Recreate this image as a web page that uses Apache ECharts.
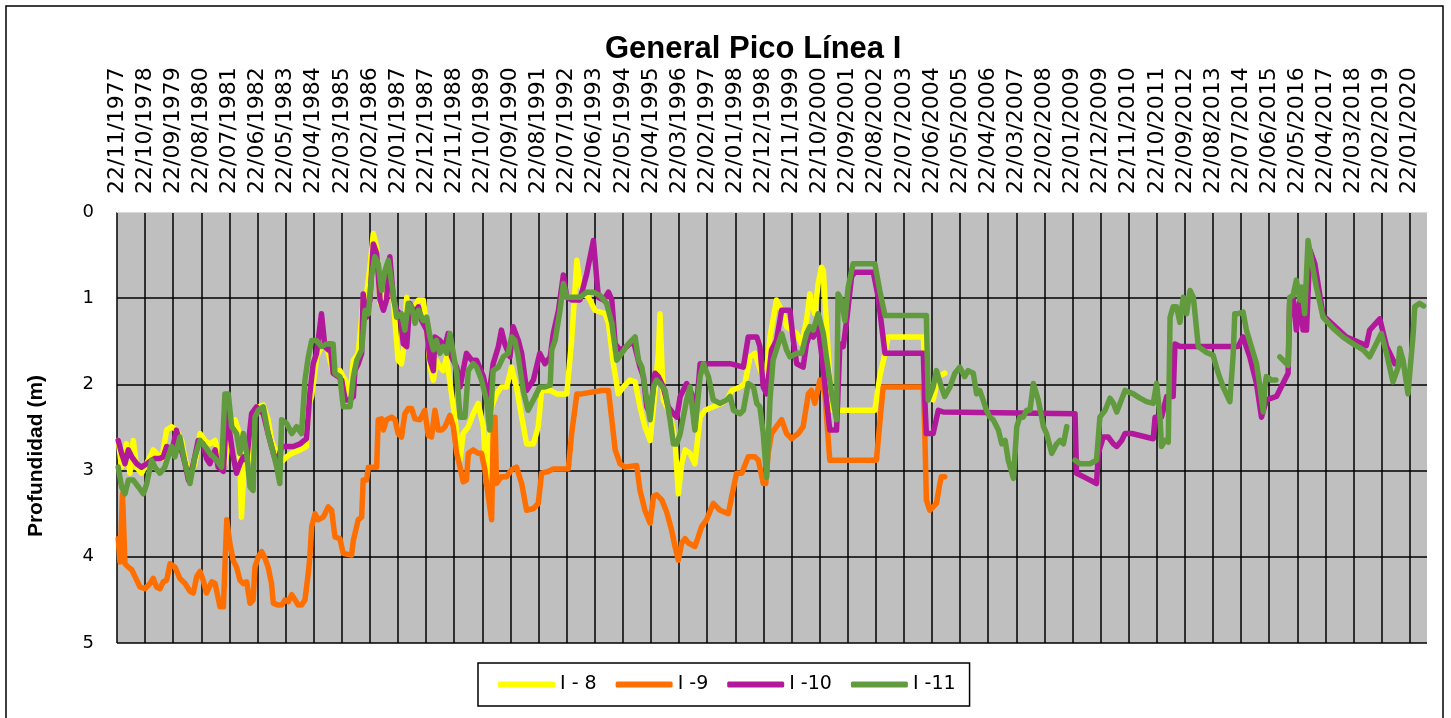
<!DOCTYPE html>
<html>
<head>
<meta charset="utf-8">
<title>General Pico Línea I</title>
<script src="https://cdn.jsdelivr.net/npm/echarts@6.0.0/dist/echarts.min.js"></script>
<style>
  html, body { margin: 0; padding: 0; background: #ffffff; }
  #chart { width: 1451px; height: 718px; }
</style>
</head>
<body>
<div id="chart"></div>
<script>
// fechas en años decimales, profundidad en metros
const startYear = 1977.890;   // 22/11/1977
const endYear = 2020.62;
const tickMonths = 11;        // una etiqueta cada 11 meses
const depthTicks = [0, 1, 2, 3, 4, 5];
const seriesNames = ['I - 8', 'I -9', 'I -10', 'I -11'];
const seriesColors = ['#ffff00', '#ff6f00', '#b2189b', '#619b3e'];

const i8 = [[1977.93,2.65],[1978.04,2.96],[1978.20,2.69],[1978.31,3.03],[1978.42,2.65],[1978.53,2.96],[1978.69,3.03],[1978.97,2.84],[1979.07,2.76],[1979.35,2.86],[1979.51,2.53],[1979.67,2.49],[1979.83,2.53],[1980.00,2.65],[1980.11,2.86],[1980.27,3.07],[1980.43,2.92],[1980.60,2.57],[1980.76,2.65],[1980.92,2.69],[1981.09,2.65],[1981.25,2.88],[1981.41,2.92],[1981.57,2.57],[1981.74,2.41],[1981.85,2.53],[1981.90,2.92],[1981.95,3.54],[1982.06,2.80],[1982.17,2.76],[1982.28,2.88],[1982.33,2.38],[1982.50,2.26],[1982.66,2.24],[1982.82,2.41],[1982.93,2.65],[1983.10,2.80],[1983.31,2.88],[1983.42,2.84],[1983.59,2.80],[1983.86,2.76],[1984.07,2.72],[1984.13,2.26],[1984.24,2.14],[1984.40,1.68],[1984.56,1.56],[1984.73,1.56],[1984.94,1.87],[1985.16,1.84],[1985.33,1.95],[1985.49,2.11],[1985.60,1.72],[1985.76,1.64],[1985.92,1.02],[1986.03,0.95],[1986.14,0.64],[1986.25,0.25],[1986.36,0.41],[1986.47,1.06],[1986.58,0.95],[1986.68,0.99],[1986.79,0.64],[1986.90,1.02],[1987.06,1.72],[1987.17,1.76],[1987.23,1.60],[1987.34,0.99],[1987.44,1.22],[1987.55,1.14],[1987.72,1.02],[1987.88,1.02],[1987.99,1.33],[1988.10,1.80],[1988.21,1.95],[1988.31,1.72],[1988.42,1.80],[1988.53,1.84],[1988.64,1.68],[1988.80,2.11],[1988.91,2.38],[1989.08,2.88],[1989.18,2.57],[1989.35,2.49],[1989.51,2.34],[1989.67,2.22],[1989.84,2.49],[1989.94,3.15],[1990.11,2.26],[1990.27,2.11],[1990.43,2.03],[1990.60,2.03],[1990.76,1.80],[1990.92,2.03],[1991.03,2.26],[1991.25,2.69],[1991.47,2.69],[1991.63,2.49],[1991.74,2.07],[1992.02,2.07],[1992.23,2.11],[1992.56,2.11],[1992.72,1.49],[1992.89,0.56],[1992.99,0.83],[1993.10,0.95],[1993.27,0.99],[1993.48,1.14],[1993.81,1.18],[1993.92,1.29],[1994.08,1.76],[1994.24,2.11],[1994.41,2.03],[1994.62,1.95],[1994.79,1.97],[1994.95,2.26],[1995.11,2.49],[1995.28,2.65],[1995.39,2.26],[1995.55,1.64],[1995.60,1.18],[1995.71,2.18],[1995.93,2.34],[1996.09,2.65],[1996.20,3.27],[1996.31,2.92],[1996.42,2.76],[1996.58,2.80],[1996.74,2.92],[1996.91,2.38],[1997.07,2.30],[1997.34,2.26],[1997.61,2.22],[1997.78,2.18],[1997.94,2.07],[1998.21,2.03],[1998.37,1.99],[1998.54,1.68],[1998.70,1.64],[1998.91,1.87],[1999.02,2.05],[1999.19,1.45],[1999.40,1.02],[1999.62,1.18],[1999.73,1.33],[1999.89,1.37],[2000.06,1.41],[2000.22,1.53],[2000.38,1.26],[2000.49,0.95],[2000.65,1.18],[2000.76,0.83],[2000.87,0.64],[2000.93,0.68],[2001.03,1.29],[2001.20,2.30],[2002.61,2.30],[2002.77,1.91],[2002.94,1.64],[2003.04,1.45],[2004.19,1.45],[2004.29,2.14],[2004.51,2.18],[2004.68,1.91],[2004.89,1.87]];

const i9 = [[1977.93,3.79],[1977.99,4.06],[1978.07,3.27],[1978.15,4.08],[1978.26,4.12],[1978.37,4.15],[1978.48,4.23],[1978.64,4.35],[1978.80,4.37],[1978.97,4.31],[1979.07,4.25],[1979.18,4.35],[1979.29,4.37],[1979.40,4.29],[1979.51,4.27],[1979.62,4.08],[1979.78,4.12],[1979.94,4.25],[1980.11,4.31],[1980.27,4.40],[1980.38,4.42],[1980.49,4.23],[1980.60,4.17],[1980.70,4.27],[1980.81,4.42],[1980.98,4.29],[1981.09,4.31],[1981.25,4.58],[1981.36,4.58],[1981.41,4.12],[1981.47,3.57],[1981.57,3.84],[1981.68,4.04],[1981.79,4.12],[1981.90,4.27],[1982.01,4.31],[1982.12,4.29],[1982.23,4.54],[1982.33,4.50],[1982.39,4.12],[1982.50,4.00],[1982.61,3.94],[1982.72,4.02],[1982.82,4.12],[1982.93,4.31],[1982.99,4.54],[1983.15,4.56],[1983.26,4.56],[1983.37,4.50],[1983.48,4.52],[1983.59,4.44],[1983.70,4.50],[1983.80,4.56],[1983.91,4.56],[1984.02,4.50],[1984.13,4.19],[1984.18,4.00],[1984.24,3.65],[1984.35,3.50],[1984.45,3.57],[1984.62,3.54],[1984.78,3.42],[1984.89,3.46],[1985.00,3.77],[1985.16,3.79],[1985.27,3.96],[1985.54,3.98],[1985.60,3.81],[1985.76,3.57],[1985.87,3.54],[1985.92,3.11],[1986.03,3.11],[1986.09,2.96],[1986.36,2.96],[1986.41,2.41],[1986.52,2.40],[1986.58,2.53],[1986.68,2.41],[1986.85,2.38],[1986.96,2.41],[1987.06,2.57],[1987.17,2.61],[1987.28,2.34],[1987.39,2.28],[1987.50,2.28],[1987.61,2.40],[1987.77,2.41],[1987.93,2.30],[1988.04,2.59],[1988.15,2.61],[1988.26,2.30],[1988.37,2.53],[1988.48,2.53],[1988.59,2.49],[1988.75,2.36],[1988.86,2.49],[1988.97,2.80],[1989.08,2.96],[1989.18,3.13],[1989.29,3.11],[1989.35,2.80],[1989.51,2.76],[1989.67,2.80],[1989.78,2.80],[1989.89,2.99],[1990.00,3.30],[1990.11,3.57],[1990.16,2.57],[1990.22,2.38],[1990.27,3.15],[1990.43,3.07],[1990.60,3.07],[1990.76,2.99],[1990.92,2.96],[1991.09,3.15],[1991.25,3.46],[1991.47,3.44],[1991.63,3.38],[1991.74,3.03],[1991.96,3.01],[1992.12,2.98],[1992.61,2.98],[1992.72,2.57],[1992.89,2.11],[1993.05,2.11],[1993.70,2.07],[1993.92,2.07],[1994.03,2.41],[1994.14,2.76],[1994.30,2.92],[1994.46,2.96],[1994.84,2.94],[1994.95,3.23],[1995.11,3.46],[1995.28,3.61],[1995.39,3.30],[1995.49,3.28],[1995.66,3.34],[1995.82,3.48],[1995.98,3.69],[1996.09,3.88],[1996.20,4.04],[1996.31,3.84],[1996.42,3.79],[1996.53,3.84],[1996.74,3.88],[1996.85,3.77],[1996.96,3.65],[1997.12,3.57],[1997.34,3.38],[1997.56,3.46],[1997.83,3.50],[1997.94,3.30],[1998.10,3.03],[1998.27,3.03],[1998.48,2.84],[1998.70,2.84],[1998.81,2.88],[1998.97,3.15],[1999.05,3.15],[1999.13,2.80],[1999.24,2.57],[1999.40,2.49],[1999.57,2.41],[1999.73,2.57],[1999.89,2.63],[2000.11,2.57],[2000.27,2.49],[2000.44,2.11],[2000.54,2.07],[2000.65,2.22],[2000.82,1.95],[2000.98,2.11],[2001.14,2.88],[2002.66,2.88],[2002.88,2.03],[2004.19,2.03],[2004.24,2.57],[2004.29,3.34],[2004.40,3.46],[2004.62,3.38],[2004.73,3.15],[2004.78,3.07],[2004.89,3.07]];

const i10 = [[1977.93,2.65],[1978.04,2.80],[1978.15,2.92],[1978.26,2.76],[1978.37,2.84],[1978.53,2.92],[1978.69,2.96],[1978.86,2.92],[1979.02,2.88],[1979.13,2.86],[1979.29,2.86],[1979.40,2.84],[1979.51,2.72],[1979.67,2.80],[1979.83,2.53],[1979.94,2.69],[1980.11,2.92],[1980.22,3.11],[1980.38,2.92],[1980.54,2.65],[1980.70,2.69],[1980.81,2.86],[1980.92,2.92],[1981.09,2.76],[1981.19,2.96],[1981.36,3.01],[1981.47,2.30],[1981.57,2.57],[1981.68,2.84],[1981.79,3.03],[1981.90,2.92],[1982.01,2.84],[1982.12,2.88],[1982.28,2.34],[1982.44,2.26],[1982.66,2.34],[1982.82,2.57],[1982.99,2.80],[1983.10,2.92],[1983.26,2.72],[1983.42,2.72],[1983.64,2.72],[1983.86,2.69],[1984.07,2.63],[1984.18,2.11],[1984.29,1.76],[1984.40,1.64],[1984.56,1.18],[1984.67,1.56],[1984.78,1.60],[1984.84,1.53],[1984.94,1.87],[1985.11,1.91],[1985.22,1.95],[1985.33,2.18],[1985.49,2.18],[1985.60,2.14],[1985.65,1.84],[1985.76,1.76],[1985.87,1.64],[1985.92,0.95],[1986.03,1.22],[1986.14,1.02],[1986.25,0.37],[1986.36,0.48],[1986.47,1.02],[1986.58,1.14],[1986.68,1.02],[1986.79,0.52],[1986.90,0.99],[1987.01,1.14],[1987.12,1.18],[1987.23,1.53],[1987.34,1.56],[1987.44,1.06],[1987.61,1.18],[1987.72,1.10],[1987.83,1.26],[1987.99,1.37],[1988.10,1.72],[1988.21,1.84],[1988.26,1.45],[1988.42,1.49],[1988.59,1.56],[1988.69,1.41],[1988.80,1.68],[1988.97,1.80],[1989.08,2.03],[1989.18,1.84],[1989.29,1.64],[1989.46,1.72],[1989.62,1.72],[1989.84,1.91],[1990.00,2.18],[1990.16,1.76],[1990.33,1.56],[1990.43,1.37],[1990.54,1.53],[1990.71,1.68],[1990.81,1.33],[1990.98,1.49],[1991.09,1.64],[1991.25,2.07],[1991.47,1.95],[1991.68,1.64],[1991.85,1.76],[1992.02,1.68],[1992.12,1.41],[1992.29,1.14],[1992.45,0.73],[1992.56,0.99],[1992.72,1.02],[1992.99,1.02],[1993.21,0.72],[1993.43,0.33],[1993.59,0.99],[1993.76,1.02],[1993.92,0.93],[1994.03,1.02],[1994.14,1.53],[1994.30,1.60],[1994.52,1.56],[1994.73,1.49],[1994.95,1.80],[1995.06,1.91],[1995.17,2.26],[1995.28,2.34],[1995.44,1.87],[1995.55,1.91],[1995.71,2.03],[1995.87,2.26],[1996.04,2.34],[1996.15,2.38],[1996.26,2.14],[1996.47,1.99],[1996.64,2.11],[1996.74,2.49],[1996.91,1.76],[1997.89,1.76],[1998.32,1.80],[1998.48,1.45],[1998.76,1.45],[1998.86,1.56],[1998.97,2.03],[1999.08,2.11],[1999.24,1.60],[1999.40,1.49],[1999.57,1.14],[1999.84,1.14],[1999.95,1.49],[2000.06,1.76],[2000.27,1.80],[2000.38,1.53],[2000.49,1.41],[2000.60,1.45],[2000.76,1.33],[2000.87,1.64],[2001.14,2.53],[2001.36,2.53],[2001.47,1.53],[2001.58,1.56],[2001.69,1.26],[2001.85,0.75],[2001.96,0.70],[2002.56,0.70],[2002.72,0.99],[2002.94,1.64],[2004.19,1.64],[2004.24,2.18],[2004.29,2.57],[2004.51,2.57],[2004.68,2.30],[2004.84,2.32],[2009.14,2.34],[2009.19,3.03],[2009.41,3.07],[2009.63,3.11],[2009.84,3.15],[2009.90,2.80],[2010.06,2.61],[2010.22,2.61],[2010.39,2.69],[2010.50,2.72],[2010.66,2.65],[2010.77,2.57],[2010.99,2.57],[2011.69,2.63],[2011.75,2.38],[2011.96,2.38],[2012.13,2.14],[2012.34,2.14],[2012.40,1.53],[2012.56,1.56],[2014.46,1.56],[2014.62,1.45],[2014.84,1.68],[2015.06,1.99],[2015.22,2.38],[2015.38,2.18],[2015.71,2.14],[2016.09,1.87],[2016.14,1.06],[2016.25,0.99],[2016.36,1.37],[2016.47,1.02],[2016.58,1.37],[2016.69,1.37],[2016.80,0.44],[2016.96,0.60],[2017.23,1.20],[2017.99,1.45],[2018.64,1.55],[2018.75,1.37],[2019.08,1.24],[2019.30,1.56],[2019.57,1.76]];

const i11 = [[1977.93,2.96],[1978.04,3.19],[1978.15,3.27],[1978.26,3.11],[1978.42,3.11],[1978.59,3.19],[1978.75,3.27],[1978.86,3.15],[1979.02,2.88],[1979.13,2.96],[1979.29,3.03],[1979.45,2.96],[1979.67,2.72],[1979.78,2.84],[1979.94,2.61],[1980.11,2.92],[1980.27,3.15],[1980.43,2.84],[1980.60,2.65],[1980.76,2.72],[1980.92,2.80],[1981.14,2.88],[1981.30,2.96],[1981.41,2.11],[1981.52,2.11],[1981.63,2.49],[1981.79,2.57],[1981.90,2.80],[1982.01,2.57],[1982.12,2.80],[1982.23,3.19],[1982.33,3.23],[1982.39,2.38],[1982.50,2.30],[1982.66,2.26],[1982.82,2.57],[1982.99,2.80],[1983.10,2.96],[1983.20,3.15],[1983.26,2.41],[1983.42,2.45],[1983.59,2.57],[1983.75,2.49],[1983.91,2.57],[1984.02,1.95],[1984.13,1.68],[1984.24,1.49],[1984.40,1.49],[1984.56,1.56],[1984.73,1.53],[1984.94,1.53],[1985.00,1.87],[1985.16,1.91],[1985.27,2.26],[1985.49,2.26],[1985.60,1.91],[1985.71,1.72],[1985.87,1.60],[1985.98,1.14],[1986.09,1.18],[1986.19,0.75],[1986.30,0.52],[1986.41,0.60],[1986.52,0.91],[1986.63,0.68],[1986.74,0.56],[1986.85,0.83],[1987.01,1.22],[1987.17,1.18],[1987.28,1.37],[1987.39,1.06],[1987.50,1.10],[1987.61,1.29],[1987.72,1.14],[1987.88,1.26],[1987.99,1.22],[1988.10,1.45],[1988.21,1.60],[1988.31,1.49],[1988.42,1.64],[1988.53,1.56],[1988.64,1.64],[1988.75,1.41],[1988.86,1.64],[1988.97,1.87],[1989.08,2.38],[1989.24,2.38],[1989.35,1.84],[1989.51,1.76],[1989.62,1.80],[1989.78,1.95],[1989.94,2.18],[1990.05,2.53],[1990.16,1.84],[1990.33,1.80],[1990.49,1.68],[1990.65,1.64],[1990.76,1.45],[1990.87,1.49],[1990.98,1.68],[1991.14,2.07],[1991.30,2.30],[1991.47,2.18],[1991.68,2.03],[1991.85,2.03],[1992.02,2.01],[1992.07,1.60],[1992.18,1.49],[1992.34,1.14],[1992.45,0.83],[1992.56,0.99],[1992.99,0.99],[1993.21,0.93],[1993.43,0.93],[1993.65,0.97],[1993.86,1.06],[1994.03,1.29],[1994.19,1.72],[1994.35,1.64],[1994.57,1.53],[1994.79,1.45],[1994.90,1.72],[1995.01,1.80],[1995.17,2.18],[1995.28,2.41],[1995.39,2.03],[1995.49,1.95],[1995.60,1.99],[1995.77,2.07],[1995.93,2.41],[1996.04,2.69],[1996.15,2.69],[1996.26,2.57],[1996.47,2.18],[1996.58,2.03],[1996.74,2.53],[1996.91,1.91],[1997.02,1.76],[1997.18,1.91],[1997.34,2.18],[1997.56,2.22],[1997.78,2.18],[1997.89,2.14],[1998.00,2.30],[1998.21,2.34],[1998.32,2.30],[1998.48,1.99],[1998.65,2.03],[1998.76,2.22],[1998.86,2.26],[1998.97,2.57],[1999.08,3.08],[1999.19,2.18],[1999.29,1.72],[1999.46,1.53],[1999.57,1.41],[1999.73,1.60],[1999.84,1.68],[2000.06,1.64],[2000.22,1.64],[2000.38,1.41],[2000.49,1.33],[2000.60,1.37],[2000.76,1.18],[2000.93,1.41],[2001.03,1.68],[2001.20,2.11],[2001.36,2.41],[2001.41,0.95],[2001.52,1.02],[2001.63,1.26],[2001.74,0.87],[2001.90,0.60],[2002.61,0.60],[2002.77,0.91],[2002.94,1.20],[2004.29,1.20],[2004.35,2.18],[2004.51,2.03],[2004.62,1.84],[2004.78,2.03],[2004.89,2.14],[2005.06,2.03],[2005.22,1.87],[2005.38,1.80],[2005.54,1.91],[2005.65,1.84],[2005.82,1.87],[2005.93,2.11],[2006.03,2.07],[2006.14,2.18],[2006.25,2.30],[2006.36,2.38],[2006.47,2.41],[2006.64,2.53],[2006.75,2.69],[2006.86,2.65],[2006.96,2.88],[2007.13,3.09],[2007.24,2.49],[2007.34,2.38],[2007.45,2.38],[2007.56,2.30],[2007.67,2.30],[2007.78,1.99],[2007.94,2.18],[2008.11,2.49],[2008.21,2.57],[2008.38,2.80],[2008.54,2.69],[2008.65,2.65],[2008.76,2.69],[2008.87,2.49],[2009.00,null],[2009.14,2.88],[2009.30,2.92],[2009.63,2.92],[2009.84,2.88],[2009.95,2.38],[2010.12,2.30],[2010.28,2.16],[2010.39,2.22],[2010.50,2.32],[2010.61,2.22],[2010.77,2.07],[2011.04,2.11],[2011.26,2.16],[2011.47,2.20],[2011.69,2.22],[2011.80,1.99],[2011.91,2.38],[2011.96,2.72],[2012.07,2.65],[2012.18,2.67],[2012.24,1.22],[2012.34,1.10],[2012.45,1.10],[2012.56,1.28],[2012.67,0.99],[2012.78,1.18],[2012.89,0.91],[2013.00,0.99],[2013.16,1.56],[2013.43,1.63],[2013.64,1.66],[2013.81,1.87],[2013.97,2.03],[2014.19,2.20],[2014.30,1.64],[2014.35,1.18],[2014.46,1.18],[2014.62,1.16],[2014.73,1.37],[2014.89,1.56],[2015.06,1.76],[2015.17,2.03],[2015.28,2.32],[2015.33,2.03],[2015.38,1.91],[2015.55,1.95],[2015.69,1.95],[2015.75,null],[2015.82,1.68],[2016.09,1.78],[2016.14,0.99],[2016.25,0.97],[2016.36,0.79],[2016.47,1.02],[2016.53,0.87],[2016.63,1.18],[2016.74,0.33],[2016.85,0.56],[2017.01,0.87],[2017.23,1.22],[2017.56,1.35],[2017.88,1.45],[2018.21,1.53],[2018.54,1.60],[2018.75,1.68],[2018.92,1.56],[2019.13,1.41],[2019.30,1.64],[2019.51,1.97],[2019.68,1.80],[2019.73,1.58],[2019.84,1.72],[2020.00,2.11],[2020.17,1.41],[2020.22,1.10],[2020.38,1.06],[2020.51,1.09]];

// eje x en meses desde 22/11/1977
function toMonths(rows) {
  return rows.map(function (p) { return [(p[0] - startYear) * 12, p[1]]; });
}

function dateLabel(v) {
  if (Math.abs(v % tickMonths) > 0.01) return '';
  var mi = 10 + Math.round(v);
  var y = 1977 + Math.floor(mi / 12);
  var m = (mi % 12) + 1;
  return '22/' + (m < 10 ? '0' : '') + m + '/' + y;
}

const allData = [i8, i9, i10, i11];
const series = allData.map(function (rows, k) {
  return {
    name: seriesNames[k],
    type: 'line',
    data: toMonths(rows),
    symbol: 'none',
    showSymbol: false,
    connectNulls: false,
    lineStyle: { color: seriesColors[k], width: 5.5, cap: 'round', join: 'round' },
    itemStyle: { color: seriesColors[k] },
    z: 2 + k
  };
});

var myChart = echarts.init(document.getElementById('chart'));
myChart.setOption({
  animation: false,
  backgroundColor: '#ffffff',
  title: {
    text: 'General Pico Línea I',
    left: 600,
    top: 29,
    textStyle: { fontFamily: 'Liberation Sans', fontWeight: 'bold', fontSize: 31, color: '#000' }
  },
  grid: {
    left: 117,
    top: 212,
    right: 24,
    bottom: 75,
    show: true,
    backgroundColor: '#bfbfbf',
    borderWidth: 0
  },
  xAxis: {
    type: 'value',
    position: 'top',
    min: 0,
    max: (endYear - startYear) * 12,
    interval: tickMonths,
    axisLine: { show: true, lineStyle: { color: '#d9d9d9', width: 1 } },
    axisTick: { show: false },
    axisLabel: {
      rotate: 90,
      margin: 18,
      showMaxLabel: false,
      fontFamily: 'DejaVu Sans',
      fontSize: 22,
      color: '#000',
      formatter: dateLabel
    },
    splitLine: { show: true, showMaxLine: false, lineStyle: { color: '#000', width: 1.5 } }
  },
  yAxis: {
    type: 'value',
    inverse: true,
    min: depthTicks[0],
    max: depthTicks[depthTicks.length - 1],
    interval: 1,
    axisLine: { show: false },
    axisTick: { show: false },
    axisLabel: { margin: 23, fontFamily: 'DejaVu Sans', fontSize: 18, color: '#000' },
    splitLine: { show: true, showMinLine: false, lineStyle: { color: '#000', width: 1.5 } }
  },
  legend: {
    left: 478,
    top: 663,
    padding: [12, 14, 12, 20],
    itemGap: 19,
    itemWidth: 57,
    itemHeight: 6,
    icon: 'roundRect',
    borderColor: '#000',
    borderWidth: 1.5,
    backgroundColor: '#fff',
    textStyle: { fontFamily: 'DejaVu Sans', fontSize: 19, color: '#000' },
    data: seriesNames
  },
  graphic: [
    {
      type: 'rect',
      shape: { x: 6, y: 6, width: 1437, height: 730 },
      style: { fill: 'none', stroke: '#000', lineWidth: 1.5 },
      silent: true
    },
    {
      type: 'text',
      x: 36,
      y: 456,
      rotation: Math.PI / 2,
      style: {
        text: 'Profundidad (m)',
        font: 'bold 21px "Liberation Sans"',
        fill: '#000',
        textAlign: 'center',
        textVerticalAlign: 'middle'
      }
    }
  ],
  series: series
});

window.addEventListener('resize', function () {
  myChart.resize();
});
</script>
</body>
</html>
